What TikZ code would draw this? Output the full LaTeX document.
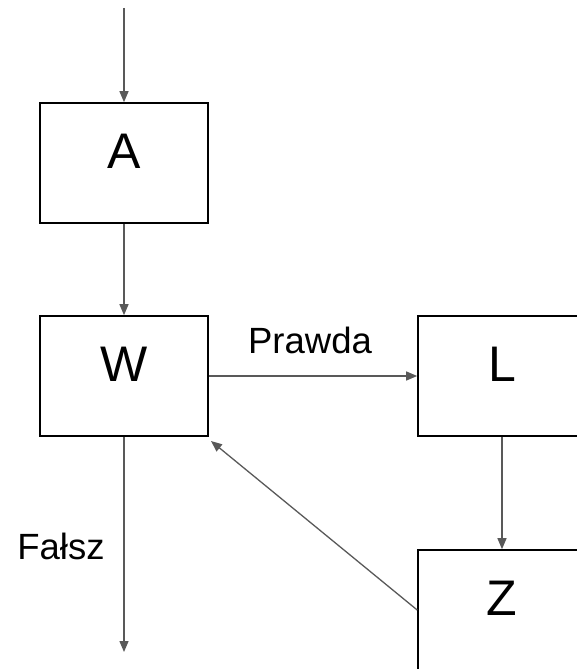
\documentclass[tikz,border=0pt]{standalone}
\usepackage{fontspec}
\setmainfont{Liberation Sans}
\usetikzlibrary{arrows.meta}
\definecolor{arrgray}{HTML}{595959}
\tikzset{
  box/.style={draw=black, line width=1.6pt, minimum width=168pt, minimum height=120pt,
    inner sep=0pt, font=\fontsize{50}{50}\selectfont, text height=36pt, text depth=26pt},
  conn/.style={draw=arrgray, line width=1.3pt, -{Triangle[length=11pt,width=9pt]}},
  lbl/.style={font=\fontsize{36.5}{36.5}\selectfont, inner sep=0pt}
}
\begin{document}
\begin{tikzpicture}[x=1pt,y=-1pt]
\useasboundingbox (0,0) rectangle (577,669);
\clip (0,0) rectangle (577,669);
\node[box] (A) at (124,163) {A};
\node[box] (W) at (124,376) {W};
\node[box] (L) at (502,376) {L};
\node[box] (Z) at (502,610) {Z};
\coordinate (top) at (124,8);
\coordinate (bot) at (124,652);
\coordinate (Wcorner) at (211,441);
\draw[conn] (top) -- (A.north);
\draw[conn] (A.south) -- (W.north);
\draw[conn] (W.east) -- (L.west);
\draw[conn] (L.south) -- (Z.north);
\draw[conn] (Z.west) -- (Wcorner);
\draw[conn] (W.south) -- (bot);
\node[lbl] (prawda) at (310,340) {Prawda};
\node[lbl] (falsz) at (61,546) {Fałsz};
\end{tikzpicture}
\end{document}
